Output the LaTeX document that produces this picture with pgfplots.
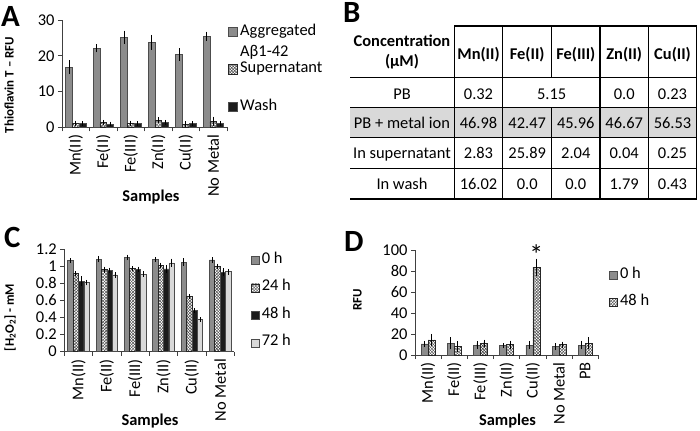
\documentclass[border=0pt]{standalone}
\usepackage{fontspec}
\setmainfont{Carlito}
\usepackage{pgfplots}
\pgfplotsset{compat=1.18}
\usepackage{pgfplotstable}
\usetikzlibrary{patterns}

\definecolor{barGray}{RGB}{140,140,140}
\definecolor{barLight}{RGB}{217,217,217}
\definecolor{barDark}{RGB}{28,28,28}
\definecolor{rowGray}{RGB}{217,217,217}
\newcommand\tf{\fontsize{16.5}{21}\selectfont}

% panel A: Thioflavin T
\pgfplotstableread{
x agg aggE sup supE wash washE
0 16.8 1.4 1.1 0.2 1.0 0.1
1 22.1 0.6 1.3 0.2 0.9 0.1
2 25.2 1.3 1.1 0.2 1.0 0.1
3 23.8 1.5 2.0 0.2 1.4 0.1
4 20.4 1.2 0.9 0.2 1.1 0.1
5 25.5 0.7 1.6 0.8 1.1 0.1
}\dataA

% panel C: H2O2
\pgfplotstableread{
x h0 e0 h24 e24 h48 e48 h72 e72
0 1.067 0.005 0.914 0.005 0.825 0.035 0.810 0.008
1 1.085 0.015 0.962 0.012 0.953 0.010 0.900 0.010
2 1.105 0.008 0.973 0.006 0.966 0.008 0.910 0.008
3 1.080 0.004 1.014 0.006 0.970 0.025 1.042 0.025
4 1.050 0.020 0.645 0.005 0.480 0.008 0.378 0.005
5 1.075 0.008 1.004 0.006 0.932 0.025 0.937 0.010
}\dataC

% panel D: RFU
\pgfplotstableread{
x h0 e0 h48 e48
0 10.5 1.0 14.3 3.8
1 11.1 3.9 7.9 3.2
2 9.5 1.6 11.1 1.6
3 8.9 0.5 9.8 1.9
4 9.5 1.6 83.5 6.3
5 7.9 1.3 9.8 1.0
6 9.5 2.2 11.1 3.9
}\dataD

\pgfplotsset{
  panel/.style={
    scale only axis, ybar=0pt,
    axis lines=left, axis line style={-, black!75, line width=0.8bp},
    tick align=outside, major tick length=4bp, minor tick length=4bp,
    major x tick style={draw=none},
    minor x tick style={black!75, line width=0.8bp},
    ytick style={black!75, line width=0.8bp},
    enlargelimits=false, ymin=0,
    tick label style={font=\tf},
    /pgf/number format/assume math mode=true,
    xticklabel style={rotate=90, anchor=east},
    ylabel style={font=\bfseries\fontsize{13}{15}\selectfont, anchor=center},
    xlabel style={font=\bfseries\fontsize{16.5}{19}\selectfont, anchor=base},
    legend style={draw=none, fill=none, inner sep=0pt, font=\tf,
      cells={anchor=base west}, anchor=north west, row sep=0pt},
    error bars/y dir=both, error bars/y explicit,
    error bars/error bar style={black, line width=0.6bp},
    error bars/error mark options={black, line width=0.6bp, mark size=2bp},
  },
  hatch/.style={pattern=crosshatch, pattern color=black!75, draw=black!85, line width=0.5bp},
  solid/.style={fill=#1, draw=black!70, line width=0.5bp},
}

\begin{document}
\begin{tikzpicture}
\useasboundingbox (0,0) rectangle (700bp,431bp);

% panel letters
\node[font=\bfseries\fontsize{31}{31}\selectfont, anchor=base west, inner sep=0pt] at (1bp,404bp) {A};
\node[font=\bfseries\fontsize{31}{31}\selectfont, anchor=base west, inner sep=0pt] at (343bp,408bp) {B};
\node[font=\bfseries\fontsize{31}{31}\selectfont, anchor=base west, inner sep=0pt] at (4bp,183bp) {C};
\node[font=\bfseries\fontsize{31}{31}\selectfont, anchor=base west, inner sep=0pt] at (344bp,179bp) {D};

% ---------- A ----------
\begin{axis}[panel,
  at={(62bp,303.7bp)}, anchor=south west,
  width=165bp, height=107.3bp,
  bar width=6.7bp,
  xmin=-0.5, xmax=5.5, ymax=30,
  xtick={0,...,5}, minor xtick={-0.5,0.5,...,5.5},
  xticklabels={Mn(II),Fe(II),Fe(III),Zn(II),Cu(II),No Metal},
  ytick={0,10,20,30},
  xlabel={Samples}, xlabel style={at={(axis description cs:0.539,-0.687)}},
  ylabel={Thioflavin T – RFU}, ylabel style={at={(axis description cs:-0.32,0.394)}},
  legend image code/.code={\draw[#1] (0bp,-1.5bp) rectangle (9bp,8bp);},
  legend style={at={(axis description cs:1.006,0.967)},
    nodes={text height=11.5bp, text depth=26bp, inner ysep=0pt, inner xsep=2.5bp}},
]
\addplot[solid=barGray] table[x=x, y=agg, y error=aggE] {\dataA};
\addlegendentry{\parbox[t]{80bp}{Aggregated\\Aβ1-42}}
\addplot[hatch] table[x=x, y=sup, y error=supE] {\dataA};
\addlegendentry{Supernatant}
\addplot[solid=barDark] table[x=x, y=wash, y error=washE] {\dataA};
\addlegendentry{Wash}
\end{axis}

% ---------- B (table) ----------
\fill[rowGray] (350bp,293.3bp) rectangle (696.7bp,323.3bp);
\begin{scope}[line width=1.2bp]
\draw (454.3bp,405bp) -- (696.7bp,405bp);
\foreach \y in {353.7,323.3,293.3,262.7,232}
  \draw (350bp,\y bp) -- (696.7bp,\y bp);
\foreach \x in {454.3,502.7,600,648.3,696.7}
  \draw (\x bp,405bp) -- (\x bp,232bp);
\draw (551.7bp,405bp) -- (551.7bp,353.7bp);
\draw (551.7bp,323.3bp) -- (551.7bp,232bp);
\end{scope}
\begin{scope}[every node/.style={anchor=base, inner sep=0pt, font=\fontsize{16.5}{20}\selectfont}]
\node[font=\bfseries\fontsize{16.5}{20}\selectfont] at (402bp,384.3bp) {Concentration};
\node[font=\bfseries\fontsize{16.5}{20}\selectfont] at (402bp,364.3bp) {(µM)};
\foreach \x/\t in {478.5/Mn(II),527.2/Fe(II),575.8/Fe(III),624.2/Zn(II),672.5/Cu(II)}
  \node[font=\bfseries\fontsize{16.5}{20}\selectfont] at (\x bp,371bp) {\t};
\node at (402bp,331bp) {PB};
\node at (478.5bp,331bp) {0.32};
\node at (551.7bp,331bp) {5.15};
\node at (624.2bp,331bp) {0.0};
\node at (672.5bp,331bp) {0.23};
\node at (402bp,302.5bp) {PB + metal ion};
\foreach \x/\t in {478.5/46.98,527.2/42.47,575.8/45.96,624.2/46.67,672.5/56.53}
  \node at (\x bp,302.5bp) {\t};
\node at (402bp,272.5bp) {In supernatant};
\foreach \x/\t in {478.5/2.83,527.2/25.89,575.8/2.04,624.2/0.04,672.5/0.25}
  \node at (\x bp,272.5bp) {\t};
\node at (402bp,241.5bp) {In wash};
\foreach \x/\t in {478.5/16.02,527.2/0.0,575.8/0.0,624.2/1.79,672.5/0.43}
  \node at (\x bp,241.5bp) {\t};
\end{scope}

% ---------- C ----------
\begin{axis}[panel,
  at={(64.3bp,79.3bp)}, anchor=south west,
  width=170bp, height=102.4bp,
  bar width=5.4bp,
  xmin=-0.5, xmax=5.5, ymax=1.2,
  xtick={0,...,5}, minor xtick={-0.5,0.5,...,5.5},
  xticklabels={Mn(II),Fe(II),Fe(III),Zn(II),Cu(II),No Metal},
  ytick={0,0.2,0.4,0.6,0.8,1,1.2},
  xlabel={Samples}, xlabel style={at={(axis description cs:0.504,-0.716)}},
  ylabel={[H\textsubscript{2}O\textsubscript{2}] - mM}, ylabel style={at={(axis description cs:-0.319,0.334)}},
  legend image code/.code={\draw[#1] (0bp,-1bp) rectangle (8bp,7bp);},
  legend style={at={(axis description cs:1.096,0.978)},
    nodes={text height=11.5bp, text depth=16bp, inner ysep=0pt, inner xsep=2.5bp}},
]
\addplot[solid=barGray] table[x=x, y=h0, y error=e0] {\dataC};
\addlegendentry{0 h}
\addplot[hatch] table[x=x, y=h24, y error=e24] {\dataC};
\addlegendentry{24 h}
\addplot[solid=barDark] table[x=x, y=h48, y error=e48] {\dataC};
\addlegendentry{48 h}
\addplot[solid=barLight] table[x=x, y=h72, y error=e72] {\dataC};
\addlegendentry{72 h}
\end{axis}

% ---------- D ----------
\begin{axis}[panel,
  at={(415bp,76bp)}, anchor=south west,
  width=183.3bp, height=105bp,
  bar width=7bp, clip=false,
  xmin=-0.5, xmax=6.5, ymax=100,
  xtick={0,...,6}, minor xtick={-0.5,0.5,...,6.5},
  xticklabels={Mn(II),Fe(II),Fe(III),Zn(II),Cu(II),No Metal,PB},
  ytick={0,20,40,60,80,100},
  xlabel={Samples}, xlabel style={at={(axis description cs:0.505,-0.673)}},
  ylabel={RFU}, ylabel style={at={(axis description cs:-0.314,0.524)}},
  legend image code/.code={\draw[#1] (0bp,-1bp) rectangle (8bp,7bp);},
  legend style={at={(axis description cs:1.058,0.843)},
    nodes={text height=11.5bp, text depth=16bp, inner ysep=0pt, inner xsep=2.5bp}},
]
\addplot[solid=barGray] table[x=x, y=h0, y error=e0] {\dataD};
\addlegendentry{0 h}
\addplot[hatch] table[x=x, y=h48, y error=e48] {\dataD};
\addlegendentry{48 h}
\node[font=\fontsize{28}{28}\selectfont, anchor=base, inner sep=0pt, xshift=3.5bp] at (axis cs:4,86) {*};
\end{axis}
\end{tikzpicture}
\end{document}
